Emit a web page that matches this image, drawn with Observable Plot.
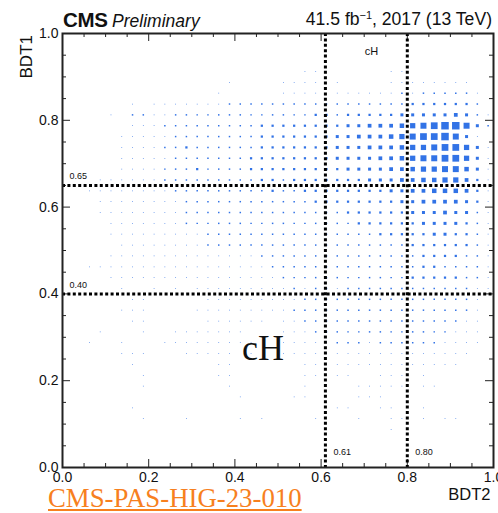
<!DOCTYPE html>
<html>
<head>
<meta charset="utf-8">
<script src="https://cdn.jsdelivr.net/npm/d3@7"></script>
<script src="https://cdn.jsdelivr.net/npm/@observablehq/plot@0.6"></script>
<style>
  html, body { margin: 0; padding: 0; background: #fff; }
  #wrap { position: relative; width: 498px; height: 513px; overflow: hidden;
          font-family: "Liberation Sans", Arial, Helvetica, sans-serif; color: #111; }
  #chart { position: absolute; left: 0; top: 0; }
  .hdr { position: absolute; line-height: 1; white-space: nowrap; }
  #hdrL { left: 63px; top: 10px; }
  #hdrL b { font-size: 20.5px; font-weight: bold; letter-spacing: -0.3px; }
  #hdrL i { font-size: 17.5px; }
  #hdrR { right: 6px; top: 11px; font-size: 17.6px; }
  #hdrR sup { font-size: 0.62em; vertical-align: 0.55em; line-height: 0; }
  #ytitle { position: absolute; left: 18px; top: 35px; font-size: 17px; line-height: 17px;
            writing-mode: vertical-rl; transform: rotate(180deg); white-space: nowrap; }
  #ref { position: absolute; left: 48px; top: 485px; line-height: 1;
         font-family: "Liberation Serif", "Times New Roman", serif; font-size: 26.8px;
         color: #f7801e; text-decoration: underline; }
</style>
</head>
<body>
<div id="wrap">
  <div id="chart"></div>
  <div class="hdr" id="hdrL"><b>CMS</b> <i>Preliminary</i></div>
  <div class="hdr" id="hdrR">41.5 fb<sup>−1</sup>, 2017 (13 TeV)</div>
  <div id="ytitle"></div>
  <a id="ref" href="#">CMS-PAS-HIG-23-010</a>
</div>
<script>
// ---- data ----
// 40 x 40 bins on [0,1] x [0,1]; rows from BDT1 top bin (0.975-1.0) down to bottom bin.
// Each character is the estimated relative bin content (hex digit, 0 = empty).
const binCount = 40;
const countRows = [
  "0000000000000000000000000000000000000000",
  "0000000000000000000000000000000000000000",
  "0000000000000000000000000000000000000000",
  "0000000000000000000000110000001100000000",
  "0000000000000001000011110100001111111100",
  "0000000000000010000011110111111212222210",
  "0000001011111112222222222222222233333320",
  "0000102211222222222222233233333444445421",
  "00000011122222222233333333445556789aa842",
  "00000111112222222233333334455567899a841",
  "0000011112232222223333333444555677899741",
  "0000011111222222233333333444455678899741",
  "0000011112223222233333333344445567788641",
  "0001111112222222223323333333444556677531",
  "0011111111222222222322333333334455666531",
  "0001111111122222222222233333333445555431",
  "0001111111122222222222222233333344454421",
  "0000111111122222222222222223333334444321",
  "0000111111111222222222222222233333443321",
  "0000011111111222222222222222222233333321",
  "0000111111111111112222222222222223333221",
  "0011111111111111111222222222222223322221",
  "0000111111111111111122222222222233333221",
  "0000010010101111111112122122222222222211",
  "0000001100000111111111222222222222222210",
  "0000011100001111111112222222222222222210",
  "0000001100000111111011222222222222222110",
  "0001000100111111100011122222222222221110",
  "0010010001111111110011111222122222211110",
  "0000011100011111010011111111111111111100",
  "0000001000000011000000111111111111111000",
  "0000000100000011000000110110011101000000",
  "0000000100000001000000100001111101100000",
  "0000000000000000100001100001110000000000",
  "0000001000000000000000000110011001000000",
  "0000000100010000101000010001001101011000",
  "0000000000000000000000000000001000000000",
  "0000000000000000000000000000000000000000",
  "0000000000000000000000000000000000000000",
  "0000000000000000000000000000000000000000"
];
const xCuts = [0.61, 0.80];          // BDT2 thresholds
const yCuts = [0.40, 0.65];          // BDT1 thresholds
const regionTop = "cH";
const regionMain = "cH";
const xTicks = [0.0, 0.2, 0.4, 0.6, 0.8, 1.0];
const yTicks = [0.0, 0.2, 0.4, 0.6, 0.8, 1.0];
const minorTicks = [0.05, 0.1, 0.15, 0.25, 0.3, 0.35, 0.45, 0.5, 0.55, 0.65, 0.7, 0.75, 0.85, 0.9, 0.95];
const xTitle = "BDT2";
const yTitle = "BDT1";

// ---- build cells ----
const binW = 1 / binCount;
const cells = [];
countRows.forEach((row, r) => {
  const j = countRows.length - 1 - r;
  const s = row.padEnd(binCount, "0");
  for (let i = 0; i < binCount; i++) {
    const v = parseInt(s[i], 16);
    if (v > 0) cells.push({bdt2: (i + 0.5) * binW, bdt1: (j + 0.5) * binW, v});
  }
});

const W = 498, H = 513, mL = 62, mR = 5, mT = 33, mB = 46;
const innerW = W - mL - mR, innerH = H - mT - mB;
const boxColor = "#3273e6";
const dark = "#222";

const chart = Plot.plot({
  width: W, height: H,
  marginLeft: mL, marginRight: mR, marginTop: mT, marginBottom: mB,
  x: {domain: [0, 1]},
  y: {domain: [0, 1]},
  r: {type: "linear", domain: [0, 10], range: [0, 4.23]},
  style: {fontFamily: '"Liberation Sans", Arial, Helvetica, sans-serif', fontSize: "14px", color: "#111", background: "white", overflow: "visible"},
  marks: [
    Plot.dot(cells, {x: "bdt2", y: "bdt1", r: "v", symbol: "square", fill: boxColor, stroke: null}),
    // inward ticks, ROOT style
    Plot.tickX(xTicks, {x: d => d, insetTop: innerH - 8, stroke: dark}),
    Plot.tickX(minorTicks, {x: d => d, insetTop: innerH - 4, stroke: dark}),
    Plot.tickX(xTicks, {x: d => d, insetBottom: innerH - 8, stroke: dark}),
    Plot.tickX(minorTicks, {x: d => d, insetBottom: innerH - 4, stroke: dark}),
    Plot.tickY(yTicks, {y: d => d, insetRight: innerW - 8, stroke: dark}),
    Plot.tickY(minorTicks, {y: d => d, insetRight: innerW - 4, stroke: dark}),
    Plot.tickY(yTicks, {y: d => d, insetLeft: innerW - 8, stroke: dark}),
    Plot.tickY(minorTicks, {y: d => d, insetLeft: innerW - 4, stroke: dark}),
    Plot.axisX({ticks: xTicks, tickSize: 0, tickPadding: 5, tickFormat: d3.format(".1f"), label: null, fontSize: 14}),
    Plot.axisY({ticks: yTicks, tickSize: 0, tickPadding: 4, tickFormat: d3.format(".1f"), label: null, fontSize: 14}),
    // category boundaries
    Plot.ruleX(xCuts, {x: d => d, stroke: "black", strokeWidth: 3, strokeDasharray: "3,2.4"}),
    Plot.ruleY(yCuts, {y: d => d, stroke: "black", strokeWidth: 3, strokeDasharray: "3,2.4"}),
    Plot.text(yCuts, {y: d => d, frameAnchor: "left", text: d => d.toFixed(2), textAnchor: "start", dx: 7, dy: -9, fontSize: 9}),
    Plot.text(xCuts, {x: d => d, frameAnchor: "bottom", text: d => d.toFixed(2), textAnchor: "start", dx: 8, dy: -13, fontSize: 9}),
    Plot.text([regionTop], {x: () => d3.mean(xCuts), frameAnchor: "top", text: d => d, dx: 5, dy: 14, fontSize: 11}),
    Plot.text([regionMain], {frameAnchor: "middle", text: d => d, dx: -15, dy: 98, fontSize: 36, fontFamily: '"Liberation Serif", "Times New Roman", serif'}),
    Plot.frame({stroke: dark, strokeWidth: 2}),
    Plot.text([xTitle], {frameAnchor: "bottom-right", text: d => d, textAnchor: "end", dx: -3, dy: 32, fontSize: 16.5})
  ]
});
document.getElementById("chart").appendChild(chart);
document.getElementById("ytitle").textContent = yTitle;
</script>
</body>
</html>
